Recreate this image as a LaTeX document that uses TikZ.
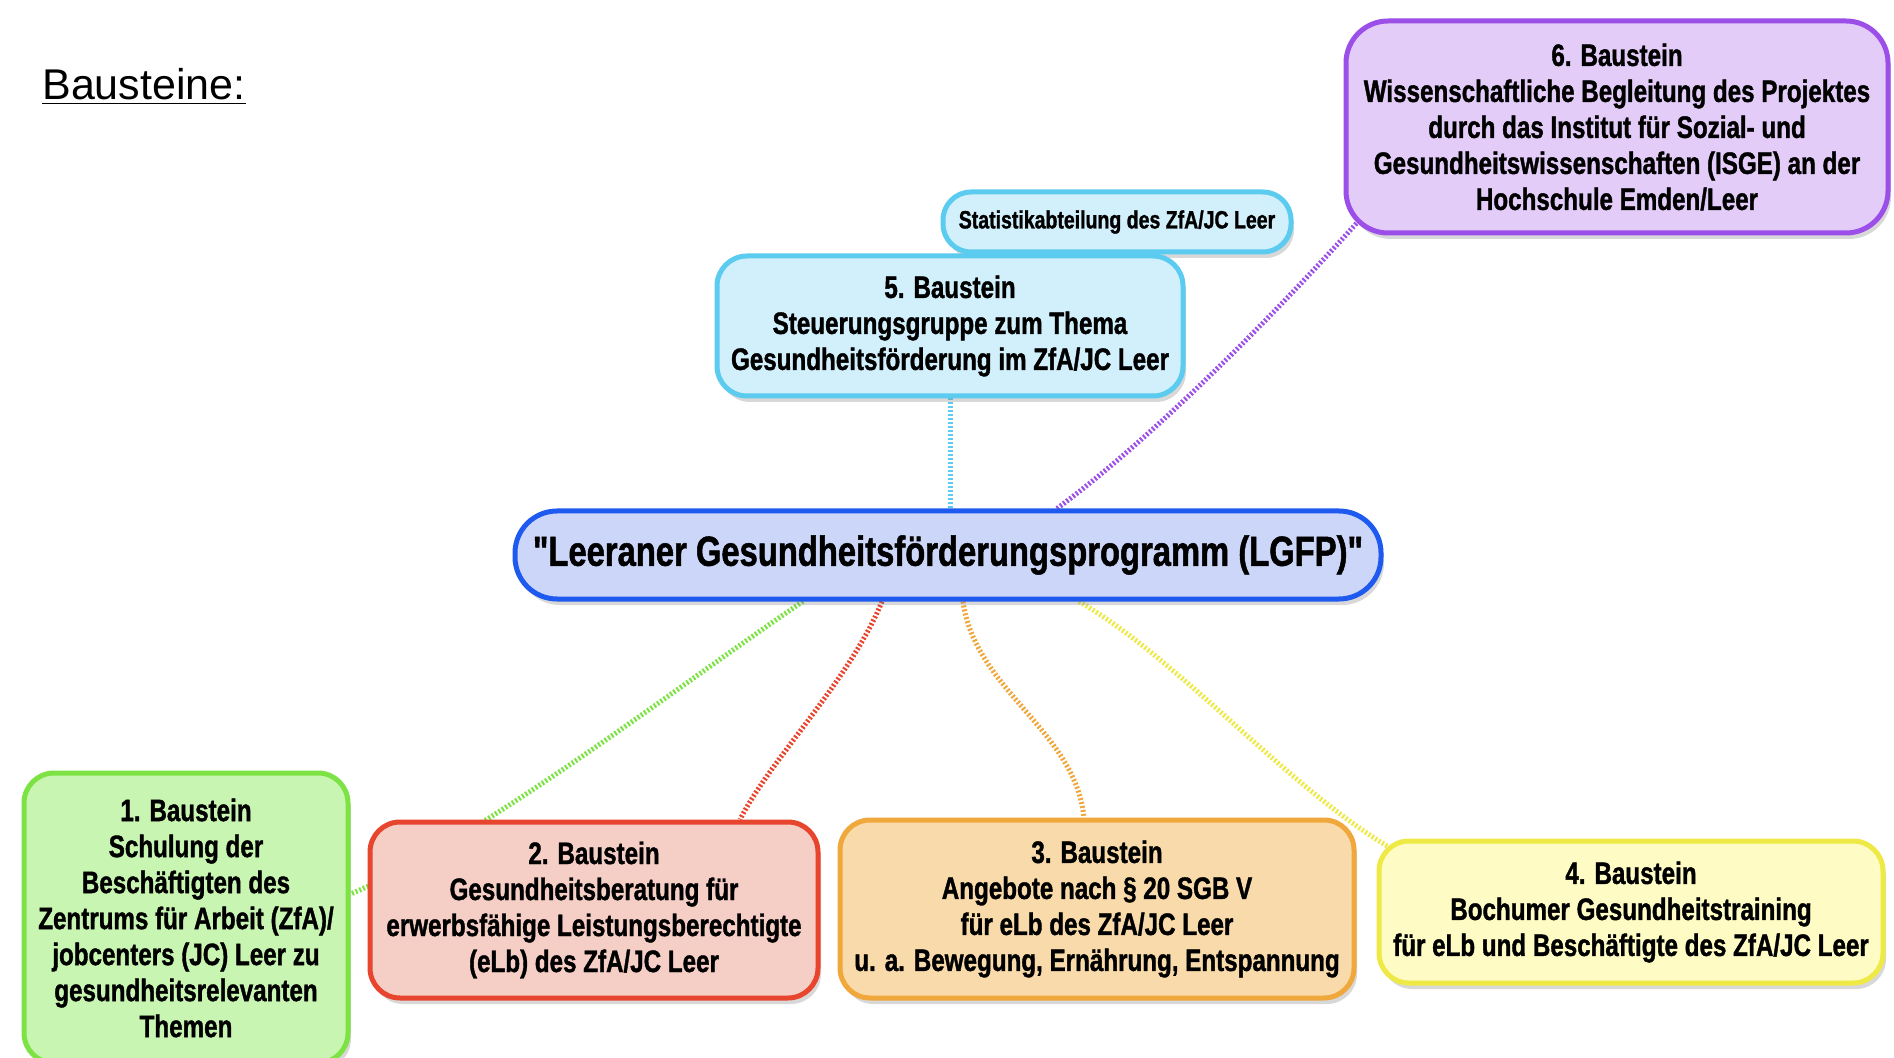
\documentclass[tikz,border=0pt]{standalone}
\usepackage{fontspec}
\setmainfont{Liberation Sans}
\newfontfamily\narrowsans{Liberation Sans}[FakeStretch=0.78, BoldFeatures={FakeBold=1.2}]
\usepackage{tikz}
\usetikzlibrary{backgrounds,calc,shadows}

\definecolor{lgfpline}{HTML}{1F5AF0}
\definecolor{lgfpfill}{HTML}{CCD6F8}
\definecolor{cyanline}{HTML}{5BCBF0}
\definecolor{cyanfill}{HTML}{D2F0FB}
\definecolor{lilaline}{HTML}{9B4EE8}
\definecolor{lilafill}{HTML}{E3CCF8}
\definecolor{gruenline}{HTML}{7DE344}
\definecolor{gruenfill}{HTML}{C9F5B2}
\definecolor{rotline}{HTML}{E8452E}
\definecolor{rotfill}{HTML}{F5CEC6}
\definecolor{orangeline}{HTML}{F0A73C}
\definecolor{orangefill}{HTML}{F9DAAA}
\definecolor{gelbline}{HTML}{EEE944}
\definecolor{gelbfill}{HTML}{FEFCC4}

\tikzset{
  baustein/.style={draw, line width=2.5pt, rounded corners=15pt, align=center, inner sep=0pt,
    font=\narrowsans\bfseries\fontsize{15.5}{18}\selectfont,
    drop shadow={opacity=0.3, shadow xshift=1.5pt, shadow yshift=-3pt}},
  verbindung/.style={line width=2.5pt, dash pattern=on 1pt off 1pt},
}

\begin{document}
\begin{tikzpicture}[x=0.5pt, y=-0.5pt]
\useasboundingbox (0,0) rectangle (1894,1058);
\clip (0,0) rectangle (1894,1058);

\node[anchor=base west, inner sep=0pt, font=\fontsize{21.5}{26}\selectfont] (titel) at (42,100) {\underline{Bausteine:}};

\node[baustein, draw=cyanline, fill=cyanfill, minimum width=174pt, minimum height=30pt, rounded corners=14pt,
  font=\narrowsans\bfseries\fontsize{12.5}{15}\selectfont] (stat) at (1117,222) {Statistikabteilung des ZfA/JC Leer};
\node[baustein, draw=cyanline, fill=cyanfill, minimum width=233pt, minimum height=70pt] (b5) at (950,326)
  {5. Baustein\\Steuerungsgruppe zum Thema\\Gesundheitsförderung im ZfA/JC Leer};
\node[baustein, draw=lilaline, fill=lilafill, minimum width=271pt, minimum height=106pt, rounded corners=21pt] (b6) at (1617,127)
  {6. Baustein\\Wissenschaftliche Begleitung des Projektes\\durch das Institut für Sozial- und\\Gesundheitswissenschaften (ISGE) an der\\Hochschule Emden/Leer};
\node[baustein, draw=lgfpline, fill=lgfpfill, minimum width=433pt, minimum height=44pt, rounded corners=21pt,
  font=\narrowsans\bfseries\fontsize{21}{25}\selectfont] (lgfp) at (948,555) {"Leeraner Gesundheitsförderungsprogramm (LGFP)"};
\node[baustein, draw=gruenline, fill=gruenfill, minimum width=162pt, minimum height=145pt] (b1) at (186,918)
  {1. Baustein\\Schulung der\\Beschäftigten des\\Zentrums für Arbeit (ZfA)/\\jobcenters (JC) Leer zu\\gesundheitsrelevanten\\Themen};
\node[baustein, draw=rotline, fill=rotfill, minimum width=224pt, minimum height=88pt] (b2) at (594,910)
  {2. Baustein\\Gesundheitsberatung für\\erwerbsfähige Leistungsberechtigte\\(eLb) des ZfA/JC Leer};
\node[baustein, draw=orangeline, fill=orangefill, minimum width=257pt, minimum height=89pt] (b3) at (1097,909)
  {3. Baustein\\Angebote nach § 20 SGB V\\für eLb des ZfA/JC Leer\\u. a. Bewegung, Ernährung, Entspannung};
\node[baustein, draw=gelbline, fill=gelbfill, minimum width=252pt, minimum height=71pt] (b4) at (1631,912)
  {4. Baustein\\Bochumer Gesundheitstraining\\für eLb und Beschäftigte des ZfA/JC Leer};

\begin{scope}[on background layer]
\fill[white] (0,0) rectangle (1894,1058);
\draw[verbindung, cyanline] (b5.south) -- (b5.south |- lgfp.north);
\draw[verbindung, lilaline] ($(lgfp.north)+(109,0)$) .. controls (1150,440) and (1270,320) .. ($(b6.south west)+(20,-20)$);
\draw[verbindung, gruenline] ($(lgfp.south)+(-145,0)$) .. controls (700,670) and (480,840) .. ($(b1.east)+(0,-24)$);
\draw[verbindung, rotline] ($(lgfp.south)+(-66,0)$) .. controls (850,680) and (770,760) .. ($(b2.north)+(146,0)$);
\draw[verbindung, orangeline] ($(lgfp.south)+(15,0)$) .. controls (975,690) and (1075,730) .. ($(b3.north)+(-13,0)$);
\draw[verbindung, gelbline] ($(lgfp.south)+(131,0)$) .. controls (1180,660) and (1290,790) .. ($(b4.north west)+(15,10)$);
\end{scope}
\end{tikzpicture}
\end{document}
